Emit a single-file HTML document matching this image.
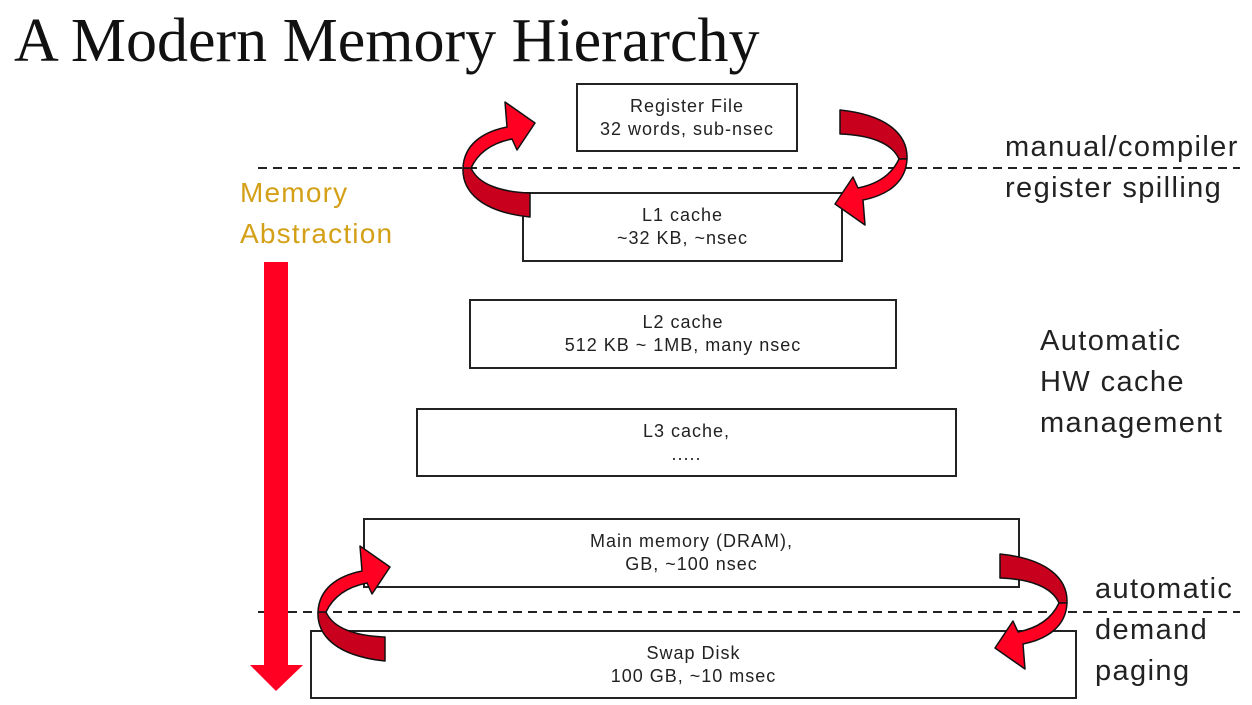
<!DOCTYPE html>
<html><head><style>
body{margin:0;width:1252px;height:705px;background:#fff;position:relative;overflow:hidden;font-family:"Liberation Sans",sans-serif}
.t{position:absolute;white-space:nowrap}
.box{position:absolute;border:2px solid #222;box-sizing:border-box;background:#fff;text-align:center;font-size:18px;letter-spacing:1px;line-height:23px;color:#222;display:flex;flex-direction:column;justify-content:center}
.r{font-size:29px;letter-spacing:1.4px;color:#222;line-height:41px}
</style></head><body>
<div class="t" style="left:14px;top:6px;font-family:'Liberation Serif',serif;font-size:62px;color:#111">A Modern Memory Hierarchy</div>
<div class="t" style="left:240px;top:172px;font-size:28px;letter-spacing:1.2px;color:#d4a017;line-height:41px">Memory<br>Abstraction</div>
<div class="t r" style="left:1005px;top:127px">manual/compiler<br>register spilling</div>
<div class="t r" style="left:1040px;top:321px">Automatic<br>HW cache<br>management</div>
<div class="t r" style="left:1095px;top:569px">automatic<br>demand<br>paging</div>

<svg width="1252" height="705" style="position:absolute;left:0;top:0">
<line x1="258" y1="168" x2="1240" y2="168" stroke="#222" stroke-width="2" stroke-dasharray="9,6"/>
<line x1="258" y1="612" x2="1240" y2="612" stroke="#222" stroke-width="2" stroke-dasharray="9,6"/>
<polygon points="264,262 288,262 288,665 303,665 276,691 250,665 264,665" fill="#ff0022"/>
</svg>

<div class="box" style="left:576px;top:83px;width:222px;height:69px">Register File<br>32 words, sub-nsec</div>
<div class="box" style="left:522px;top:192px;width:321px;height:70px">L1 cache<br>~32 KB, ~nsec</div>
<div class="box" style="left:469px;top:299px;width:428px;height:70px">L2 cache<br>512 KB ~ 1MB, many nsec</div>
<div class="box" style="left:416px;top:408px;width:541px;height:69px">L3 cache,<br>.....</div>
<div class="box" style="left:363px;top:518px;width:657px;height:70px">Main memory (DRAM),<br>GB, ~100 nsec</div>
<div class="box" style="left:310px;top:630px;width:767px;height:69px">Swap Disk<br>100 GB, ~10 msec</div>

<svg width="1252" height="705" style="position:absolute;left:0;top:0">
<defs>
<g id="arr" stroke="#111" stroke-width="1.5" stroke-linejoin="round">
<path d="M530,217 C482,212 462,192 463,168 L471,168 C478,184 500,192 530,193 Z" fill="#c8001e"/>
<path d="M463,168 C464,145 482,132 507,127 L505,102 L535,123 L517,150 L512,139 C492,143 478,153 471,168 Z" fill="#ff0022"/>
</g>
</defs>
<use href="#arr"/>
<use href="#arr" transform="translate(1370,327) scale(-1,-1)"/>
<use href="#arr" transform="translate(-145,444)"/>
<use href="#arr" transform="translate(1530,771) scale(-1,-1)"/>
</svg>
</body></html>
